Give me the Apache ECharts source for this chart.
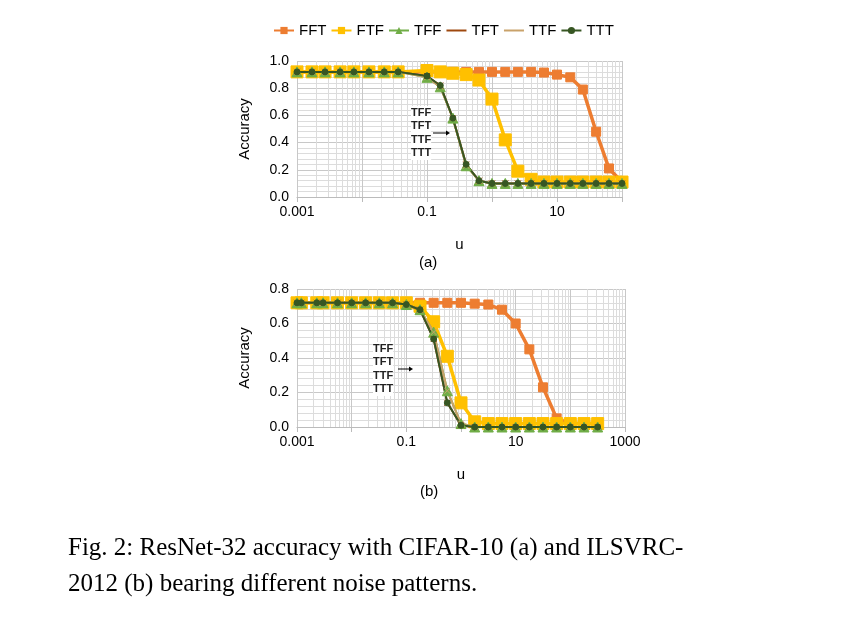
<!DOCTYPE html>
<html><head><meta charset="utf-8">
<script src="https://cdn.jsdelivr.net/npm/echarts@6/dist/echarts.min.js"></script>
<style>body{margin:0;background:#fff}#c{width:851px;height:635px}</style>
</head><body><div id="c"></div>
<script>
// (a) CIFAR-10
var uA = [0.001,0.0017,0.0027,0.0046,0.0075,0.0128,0.022,0.036,0.1,0.16,0.25,0.4,0.63,1,1.6,2.5,4,6.3,10,16,25,40,63,100];
var fftA = [0.92,0.92,0.92,0.92,0.92,0.92,0.92,0.92,0.92,0.92,0.92,0.92,0.92,0.92,0.92,0.92,0.92,0.915,0.90,0.88,0.79,0.48,0.21,0.11];
var ftfA = [0.92,0.92,0.92,0.92,0.92,0.92,0.92,0.92,0.93,0.92,0.91,0.90,0.86,0.72,0.42,0.19,0.13,0.11,0.11,0.11,0.11,0.11,0.11,0.11];
var tffA = [0.92,0.92,0.92,0.92,0.92,0.92,0.92,0.92,0.88,0.81,0.58,0.23,0.12,0.10,0.10,0.10,0.10,0.10,0.10,0.10,0.10,0.10,0.10,0.10];
var tttA = [0.92,0.92,0.92,0.92,0.92,0.92,0.92,0.92,0.89,0.82,0.58,0.24,0.12,0.10,0.10,0.10,0.10,0.10,0.10,0.10,0.10,0.10,0.10,0.10];
// (b) ILSVRC-2012
var uB = [0.001,0.0012,0.0023,0.003,0.0055,0.01,0.018,0.032,0.056,0.1,0.178,0.316,0.562,1,1.78,3.16,5.62,10,17.8,31.6,56.2,100,178,316];
var fftB = [0.72,0.72,0.72,0.72,0.72,0.72,0.72,0.72,0.72,0.72,0.72,0.72,0.72,0.72,0.715,0.71,0.68,0.60,0.45,0.23,0.05,0.02,0.02,0.02];
var ftfB = [0.72,0.72,0.72,0.72,0.72,0.72,0.72,0.72,0.72,0.72,0.70,0.61,0.41,0.14,0.03,0.02,0.02,0.02,0.02,0.02,0.02,0.02,0.02,0.02];
var tffB = [0.72,0.72,0.72,0.72,0.72,0.72,0.72,0.72,0.72,0.71,0.68,0.55,0.21,0.02,0.0,0.0,0.0,0.0,0.0,0.0,0.0,0.0,0.0,0.0];
var tttB = [0.72,0.72,0.72,0.72,0.72,0.72,0.72,0.72,0.72,0.71,0.68,0.51,0.14,0.01,0.0,0.0,0.0,0.0,0.0,0.0,0.0,0.0,0.0,0.0];

var names = ['FFT','FTF','TFF','TFT','TTF','TTT'];
var colors = ['#ED7D31','#FFC000','#70AD47','#9E480E','#C9A26A','#375623'];
var symbols = ['rect','rect','triangle','path://M0,0L10,10M10,0L0,10','path://M0,0L10,10M10,0L0,10','circle'];
var sizes = [9,12,10,6,6,6];

function pairs(u, v){ return u.map(function(x,i){ return [x, v[i]]; }); }
var dataA = [fftA, ftfA, tffA, tttA, tffA, tttA];
var dataB = [fftB, ftfB, tffB, tttB, tffB, tttB];

var gridLine = {show:true, lineStyle:{color:'#c8c8c8', width:1}};
var minorLine = {show:true, lineStyle:{color:'#dcdcdc', width:1}};
var lab = {color:'#000', fontSize:14, fontFamily:'Liberation Sans'};
function xAxis(idx, max){
  return {type:'log', logBase:10, min:0.001, max:max, gridIndex:idx,
    axisLine:{lineStyle:{color:'#bbb'}}, axisTick:{show:true, lineStyle:{color:'#bbb'}},
    axisLabel:Object.assign({formatter:function(v){
      var e = Math.round(Math.log10(v));
      if ((e+3)%2 !== 0) return '';
      return String(+v.toPrecision(3));
    }}, lab),
    splitLine:gridLine, minorTick:{show:false, splitNumber:9}, minorSplitLine:minorLine,
    name:'u', nameLocation:'middle', nameGap:40, nameTextStyle:{color:'#000', fontSize:15, fontFamily:'Liberation Sans'}};
}
function yAxis(idx, max){
  return {type:'value', min:0, max:max, interval:0.2, gridIndex:idx,
    axisLine:{show:false}, axisTick:{show:false},
    axisLabel:Object.assign({formatter:function(v){return v.toFixed(1);}}, lab),
    splitLine:gridLine, minorTick:{show:false, splitNumber:5}, minorSplitLine:minorLine,
    name:'Accuracy', nameLocation:'middle', nameGap:45, nameTextStyle:{color:'#000', fontSize:15, fontFamily:'Liberation Sans'}};
}
var series = [];
names.forEach(function(n,i){
  [dataA, dataB].forEach(function(d, g){
    series.push({name:n, type:'line', xAxisIndex:g, yAxisIndex:g,
      data: pairs(g ? uB : uA, d[i]), symbol:symbols[i], symbolSize:sizes[i],
      lineStyle:{color:colors[i], width: i<2 ? 3.5 : 2}, itemStyle:{color:colors[i], borderColor:colors[i]},
      z: i<2 ? 2 : 3});
  });
});
var note = {text:'TFF\nTFT\nTTF\nTTT', lineHeight:13.5, fontSize:11, fontWeight:'bold', fontFamily:'Liberation Sans', fill:'#222', backgroundColor:'#fff'};
var chart = echarts.init(document.getElementById('c'));
chart.setOption({
  animation:false,
  legend:{top:18, left:268, itemGap:4, itemWidth:20, itemHeight:9,
    textStyle:{fontSize:15, color:'#000', fontFamily:'Liberation Sans'}, data:names},
  grid:[{left:297, top:61, width:325, height:136},{left:297, top:289, width:328, height:138}],
  xAxis:[xAxis(0,100), xAxis(1,1000)],
  yAxis:[yAxis(0,1.0), yAxis(1,0.8)],
  series:series,
  graphic:[
    {type:'text', left:411, top:106, z:10, style:note},
    {type:'line', z:10, shape:{x1:433,y1:133,x2:446,y2:133}, style:{stroke:'#000', lineWidth:1}},
    {type:'polygon', z:10, shape:{points:[[446,130.5],[450,133],[446,135.5]]}, style:{fill:'#000'}},
    {type:'text', left:373, top:342, z:10, style:note},
    {type:'line', z:10, shape:{x1:398,y1:369,x2:409,y2:369}, style:{stroke:'#000', lineWidth:1}},
    {type:'polygon', z:10, shape:{points:[[409,366.5],[413,369],[409,371.5]]}, style:{fill:'#000'}},
    {type:'text', left:419, top:255, style:{text:'(a)', fontSize:15, fontFamily:'Liberation Sans', fill:'#000'}},
    {type:'text', left:420, top:484, style:{text:'(b)', fontSize:15, fontFamily:'Liberation Sans', fill:'#000'}},
    {type:'text', left:68, top:530, style:{text:'Fig. 2: ResNet-32 accuracy with CIFAR-10 (a) and ILSVRC-\n2012 (b) bearing different noise patterns.', lineHeight:36, fontSize:25, fontFamily:'Liberation Serif', fill:'#000'}}
  ]
});
</script></body></html>
